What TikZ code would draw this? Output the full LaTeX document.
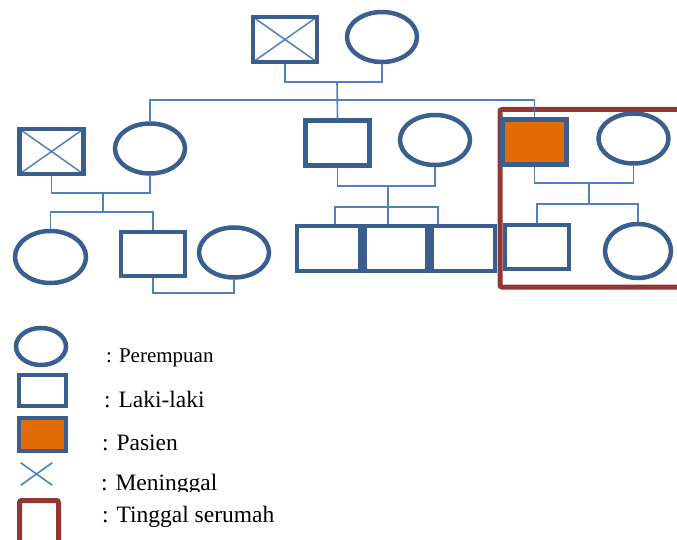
\documentclass[tikz,border=0pt]{standalone}
\usepackage{fontspec}
\setmainfont{Liberation Serif}
\usetikzlibrary{shapes.geometric}
\definecolor{shapeblue}{HTML}{3A5F8F}
\definecolor{linkblue}{HTML}{4F81BD}
\definecolor{patorange}{HTML}{E36C09}
\definecolor{housered}{HTML}{943634}
\begin{document}
\begin{tikzpicture}[x=1pt,y=-1pt,
   male/.style={draw=shapeblue,line width=4.5pt,inner sep=0pt,minimum width=64pt,minimum height=45pt},
   female/.style={ellipse,draw=shapeblue,line width=4.5pt,inner sep=0pt,minimum width=70pt,minimum height=50pt},
   patient/.style={male,fill=patorange},
   dead/.style={male,path picture={
      \draw[linkblue,line width=1.5pt] (path picture bounding box.north west) -- (path picture bounding box.south east)
                                       (path picture bounding box.south west) -- (path picture bounding box.north east);}},
   link/.style={draw=linkblue,line width=1.6pt},
   house/.style={draw=housered,line width=5pt,rounded corners=2pt},
   legtext/.style={anchor=base west,inner sep=0pt,font=\fontsize{23.5}{28}\selectfont}]
   \useasboundingbox (0,0) rectangle (677,540);
   % Living together
   \draw[house] (500,109.5) rectangle (720,287);
   % Grandparents
   \node[dead]   (gpa) at (285,39.5) {};
   \node[female] (gma) at (382,37) {};
   \draw[link] (gpa.south) -- ++(0,18) -| (gma.south);
   \coordinate (c0) at (337,82);
   \coordinate (s0) at (337,100);
   % Second generation
   \node[dead]    (uncleA) at (51.5,151.5) {};
   \node[female]  (aunt)   at (150,148.5) {};
   \node[male]    (dad)    at (337.5,143) {};
   \node[female]  (mom)    at (435,140) {};
   \node[patient] (pat)    at (534.5,142) {};
   \node[female]  (patw)   at (633.5,138.5) {};
   \draw[link] (c0) -- (dad.north);
   \draw[link] (aunt.north) |- (s0) -| (pat.north);
   % Aunt's family
   \draw[link] (uncleA.south) -- ++(0,17) -| (aunt.south);
   \coordinate (c1) at (103,193);
   \coordinate (s1) at (103,212);
   \node[female,minimum width=71pt,minimum height=52pt] (cousA) at (50.5,257) {};
   \node[male,minimum height=44pt] (cousB) at (153,254) {};
   \node[female] (cousBw) at (234,252.5) {};
   \draw[link] (c1) -- (s1);
   \draw[link] (cousA.north) |- (s1) -| (cousB.north);
   \draw[link] (cousB.south) -- ++(0,15) -| (cousBw.south);
   % Siblings
   \draw[link] (dad.south) -- ++(0,18) -| (mom.south);
   \coordinate (c2) at (388,186);
   \coordinate (s2) at (388,207);
   \node[male,minimum width=63pt] (sibA) at (328.5,248.5) {};
   \node[male,minimum width=63pt] (sibB) at (396,248.5) {};
   \node[male,minimum width=63pt] (sibC) at (463.5,248.5) {};
   \draw[link] (c2) -- (s2 |- sibB.north);
   \draw[link] ([xshift=6.5pt]sibA.north) |- (s2) -| ([xshift=-25.5pt]sibC.north);
   % Patient's children
   \draw[link] (pat.south) -- ++(0,16) -| (patw.south);
   \coordinate (c3) at (589,183);
   \coordinate (s3) at (589,204);
   \node[male,minimum height=44pt] (kidA) at (537,247) {};
   \node[female,minimum width=66pt,minimum height=54pt] (kidB) at (638,251) {};
   \draw[link] (c3) -- (s3);
   \draw[link] (kidA.north) |- (s3) -| (kidB.north);
   % Legend
   \node[female,minimum width=50pt,minimum height=37pt] (legF) at (41,346.5) {};
   \node[male,minimum width=47pt,minimum height=31pt]   (legM) at (42.5,390.5) {};
   \node[patient,minimum width=47pt,minimum height=33pt] (legP) at (42.5,434.5) {};
   \node[inner sep=0pt,minimum width=31pt,minimum height=22pt] (legX) at (36.5,474) {};
   \draw[link] (legX.north west) -- (legX.south east) (legX.south west) -- (legX.north east);
   \draw[house] (19.5,500.5) rectangle (58.5,570);
   \node[legtext,font=\fontsize{21}{25}\selectfont] (txtF) at (106,362) {: Perempuan};
   \node[legtext] (txtM) at (104,407) {: Laki-laki};
   \node[legtext] (txtP) at (102,450) {: Pasien};
   \begin{scope}
      \clip (0,0) rectangle (677,491);
      \node[legtext] (txtX) at (101,490) {: Meninggal};
   \end{scope}
   \node[legtext] (txtH) at (102,522) {: Tinggal serumah};
\end{tikzpicture}
\end{document}
